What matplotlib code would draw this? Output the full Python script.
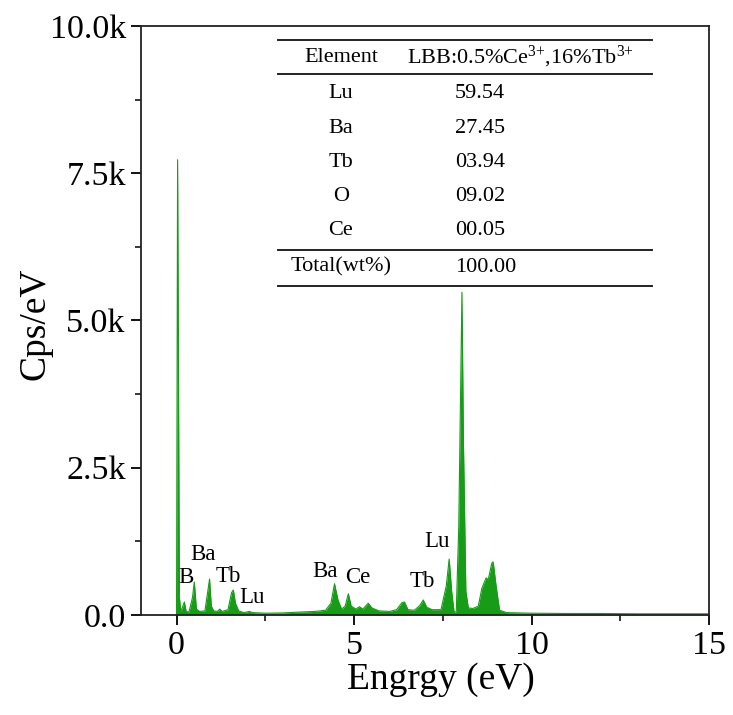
import matplotlib
matplotlib.use('Agg')
import matplotlib.pyplot as plt
from matplotlib.ticker import MultipleLocator

plt.rcParams['font.family'] = ['Liberation Serif', 'DejaVu Serif']
plt.rcParams['mathtext.fontset'] = 'custom'
plt.rcParams['mathtext.rm'] = 'Liberation Serif'
plt.rcParams['mathtext.it'] = 'Liberation Serif:italic'

# spectrum outline (energy in eV, counts in cps/eV)
energy = [0.00, 0.03, 0.08, 0.12, 0.18, 0.22, 0.27, 0.35, 0.45, 0.50, 0.56, 0.65,
          0.80, 0.88, 0.93, 0.98, 1.05, 1.15, 1.22, 1.28, 1.45, 1.55, 1.60, 1.66,
          1.75, 1.90, 2.05, 2.15, 2.50, 3.00, 3.50, 3.90, 4.20, 4.35, 4.45, 4.55,
          4.65, 4.75, 4.84, 4.92, 5.05, 5.15, 5.25, 5.40, 5.50, 5.70, 6.00, 6.20,
          6.35, 6.42, 6.52, 6.70, 6.85, 6.95, 7.05, 7.20, 7.45, 7.60, 7.68, 7.75,
          7.82, 7.88, 7.95, 8.04, 8.08, 8.15, 8.22, 8.35, 8.50, 8.60, 8.72, 8.78,
          8.88, 8.92, 9.00, 9.10, 9.30, 10.0, 11.0, 12.0, 13.0, 14.0, 15.0]
counts = [0, 7730, 300, 60, 150, 220, 60, 50, 300, 560, 100, 60,
          70, 400, 610, 150, 70, 60, 100, 60, 90, 380, 425, 200,
          70, 40, 60, 40, 30, 35, 50, 60, 80, 200, 530, 250,
          100, 150, 360, 150, 100, 140, 100, 200, 120, 70, 60, 90,
          210, 220, 90, 80, 160, 255, 130, 90, 90, 500, 950, 400,
          40, 60, 1500, 5480, 3000, 400, 120, 110, 150, 450, 630, 600,
          880, 900, 500, 80, 40, 30, 25, 25, 20, 20, 20]

peak_labels = ['B', 'Ba', 'Tb', 'Lu', 'Ba', 'Ce', 'Tb', 'Lu']
peak_x = [0.28, 0.76, 1.46, 2.14, 4.19, 5.10, 6.92, 7.35]
peak_y = [630, 1020, 645, 290, 730, 630, 560, 1240]

yticks = [0, 2500, 5000, 7500, 10000]
ytick_labels = ['0.0', '2.5k', '5.0k', '7.5k', '10.0k']

elements = ['Lu', 'Ba', 'Tb', 'O', 'Ce']
wt = ['59.54', '27.45', '03.94', '09.02', '00.05']
total = '100.00'

green = '#169c16'

fig = plt.figure(figsize=(7.33, 7.15), dpi=100)
ax = fig.add_axes([0.1924, 0.1399, 0.7749, 0.8237])

ax.fill_between(energy, counts, 0, color=green, lw=0)
ax.plot(energy, counts, color=green, lw=0.8)

for lab, x, y in zip(peak_labels, peak_x, peak_y):
    ax.text(x, y, lab, fontsize=16.5, ha='center', va='center')

ax.set_xlim(-1, 15)
ax.set_ylim(0, 10000)
ax.xaxis.set_major_locator(MultipleLocator(5))
ax.xaxis.set_minor_locator(MultipleLocator(2.5))
ax.set_yticks(yticks)
ax.set_yticklabels(ytick_labels)
ax.yaxis.set_minor_locator(MultipleLocator(1250))

for s in ax.spines.values():
    s.set_linewidth(1.3)
    s.set_color('#222222')
ax.tick_params(which='major', direction='out', length=7, width=1.3, labelsize=24.5, pad=4)
ax.tick_params(which='minor', direction='out', length=4, width=1.1)

ax.set_xlabel('Engrgy (eV)', fontsize=27)
ax.set_ylabel('Cps/eV', fontsize=27)
ax.xaxis.set_label_coords(0.528, -0.11)
ax.yaxis.set_label_coords(-0.187, 0.494)
ax.xaxis.label.set_va('center')
ax.yaxis.label.set_va('center')

# composition table
tr = ax.transAxes
for yl in [0.976, 0.9185, 0.6197, 0.5586]:
    ax.plot([0.241, 0.90], [yl, yl], color='#222222', lw=1.4, transform=tr, clip_on=False)

fs = 16
ax.text(0.352, 0.947, 'Element', fontsize=fs, ha='center', va='center', transform=tr)
ax.text(0.667, 0.947, r'LBB:0.5%Ce$^{3{+}}$,16%Tb$^{3{+}}$', fontsize=fs,
        ha='center', va='center', transform=tr)
row_y = [0.8846, 0.8268, 0.769, 0.7097, 0.652]
for el, v, y in zip(elements, wt, row_y):
    ax.text(0.352, y, el, fontsize=fs, ha='center', va='center', transform=tr)
    ax.text(0.553, y, v, fontsize=fs, ha='left', va='center', transform=tr)
ax.text(0.352, 0.5908, 'Total(wt%)', fontsize=fs, ha='center', va='center', transform=tr)
ax.text(0.553, 0.5908, total, fontsize=fs, ha='left', va='center', transform=tr)

fig.savefig('out.png', dpi=100)
